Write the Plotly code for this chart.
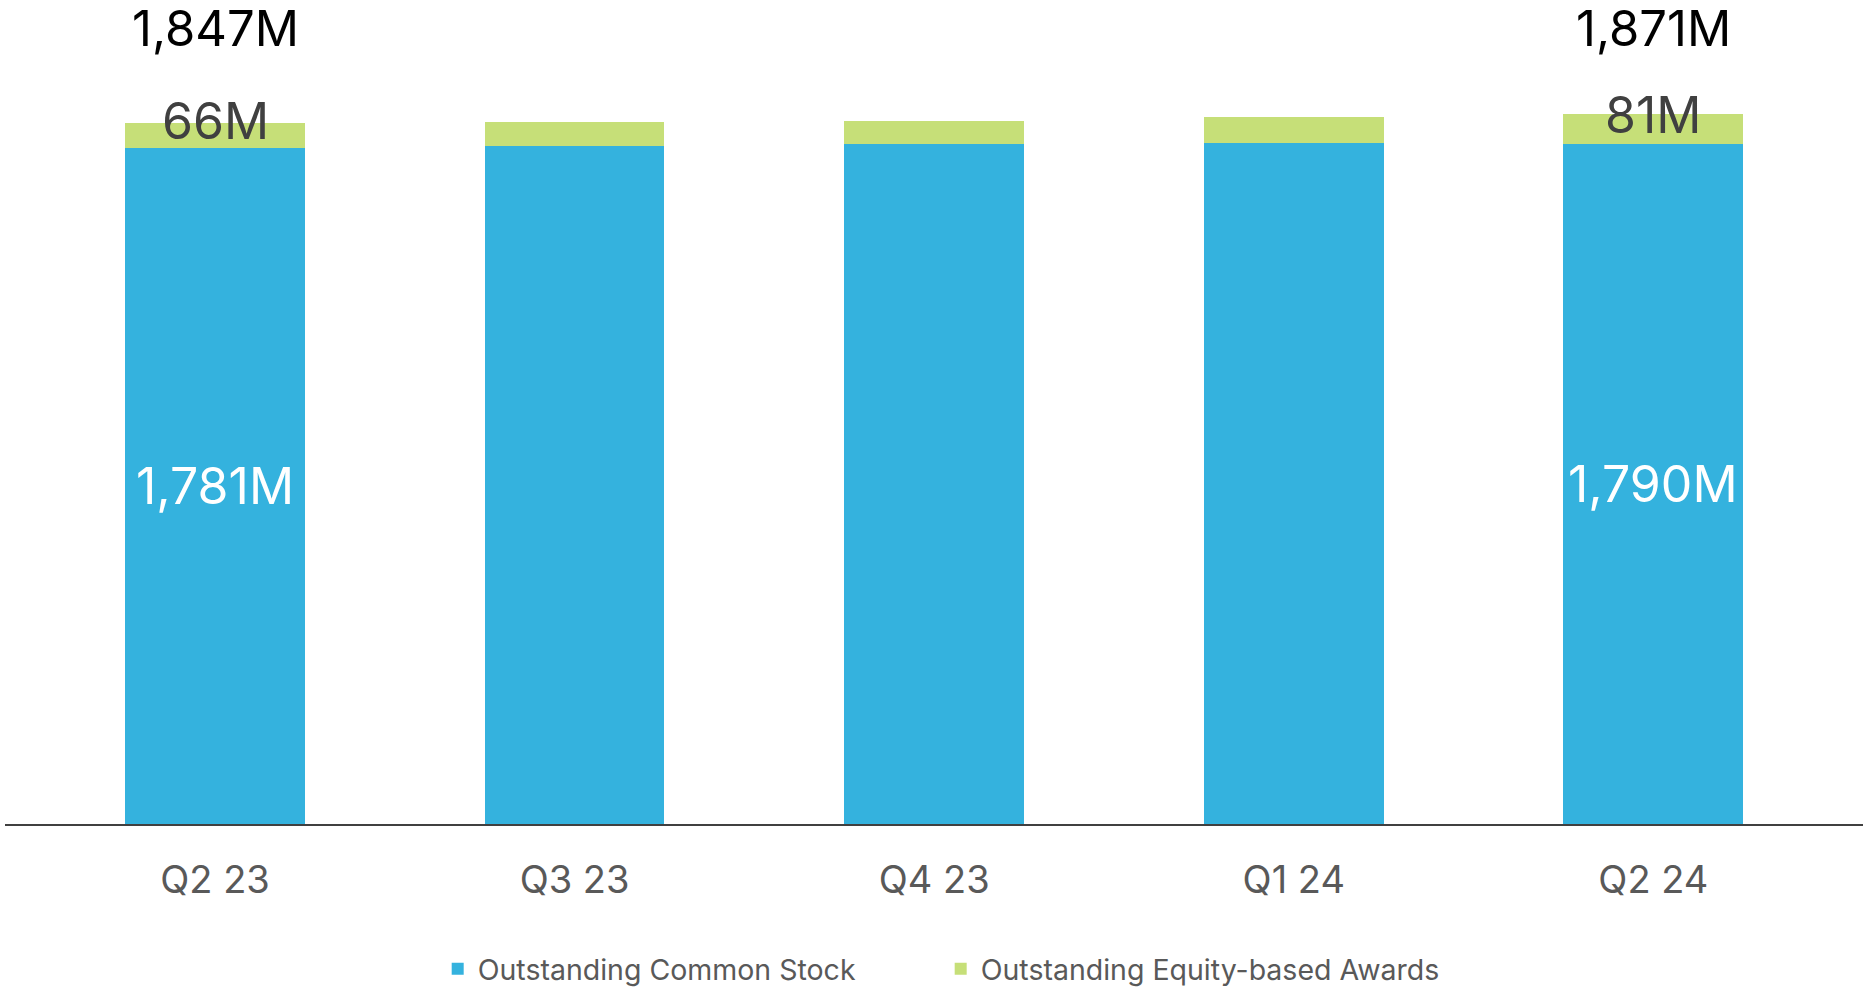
import plotly.graph_objects as go

# Share count by quarter (millions)
quarters = ["Q2 23", "Q3 23", "Q4 23", "Q1 24", "Q2 24"]
common_stock = [1781, 1785, 1790, 1794, 1790]
equity_awards = [66, 64, 62, 68, 81]
labelled = ["Q2 23", "Q2 24"]

BLUE = "#34B2DE"
GREEN = "#C6DF78"
FONT = "Inter"

fig = go.Figure()
fig.add_trace(go.Bar(
    name="Outstanding Common Stock", x=quarters, y=common_stock,
    marker=dict(color=BLUE, line=dict(width=0)), width=0.5,
))
fig.add_trace(go.Bar(
    name="Outstanding Equity-based Awards", x=quarters, y=equity_awards,
    marker=dict(color=GREEN, line=dict(width=0)), width=0.5,
))

for q, c, e in zip(quarters, common_stock, equity_awards):
    if q not in labelled:
        continue
    # common stock value inside the blue segment
    fig.add_annotation(x=q, y=c / 2, text=f"{c:,}M", showarrow=False,
                       font=dict(family=FONT, size=50, color="white"),
                       yanchor="middle")
    # awards value over the green segment
    fig.add_annotation(x=q, y=c + e / 2, text=f"{e}M", showarrow=False,
                       font=dict(family=FONT, size=50, color="#404040"),
                       yanchor="middle", yshift=14)
    # total above the column
    fig.add_annotation(x=q, y=1, yref="paper", text=f"{c + e:,}M",
                       showarrow=False,
                       font=dict(family=FONT, size=49, color="black"),
                       yanchor="top", yshift=67)

fig.update_layout(
    width=1863, height=992,
    margin=dict(l=5, r=0, t=64, b=168, autoexpand=False),
    paper_bgcolor="white", plot_bgcolor="white",
    barmode="stack",
    showlegend=True,
    legend=dict(
        orientation="h", x=0.5036, xanchor="center",
        yref="container", y=0.023, yanchor="middle",
        font=dict(family=FONT, size=28.5, color="#595959"),
        traceorder="normal", entrywidth=458,
    ),
    font=dict(family=FONT),
)
fig.update_xaxes(
    type="category", range=[-0.584, 4.583],
    showline=True, linecolor="#404040", linewidth=2,
    showgrid=False, ticks="", automargin=False,
    tickfont=dict(family=FONT, size=38, color="#595959"),
    ticklabelstandoff=21,
)
fig.update_yaxes(range=[0, 2002], visible=False, showgrid=False,
                 automargin=False)

fig.write_html("out.html")
